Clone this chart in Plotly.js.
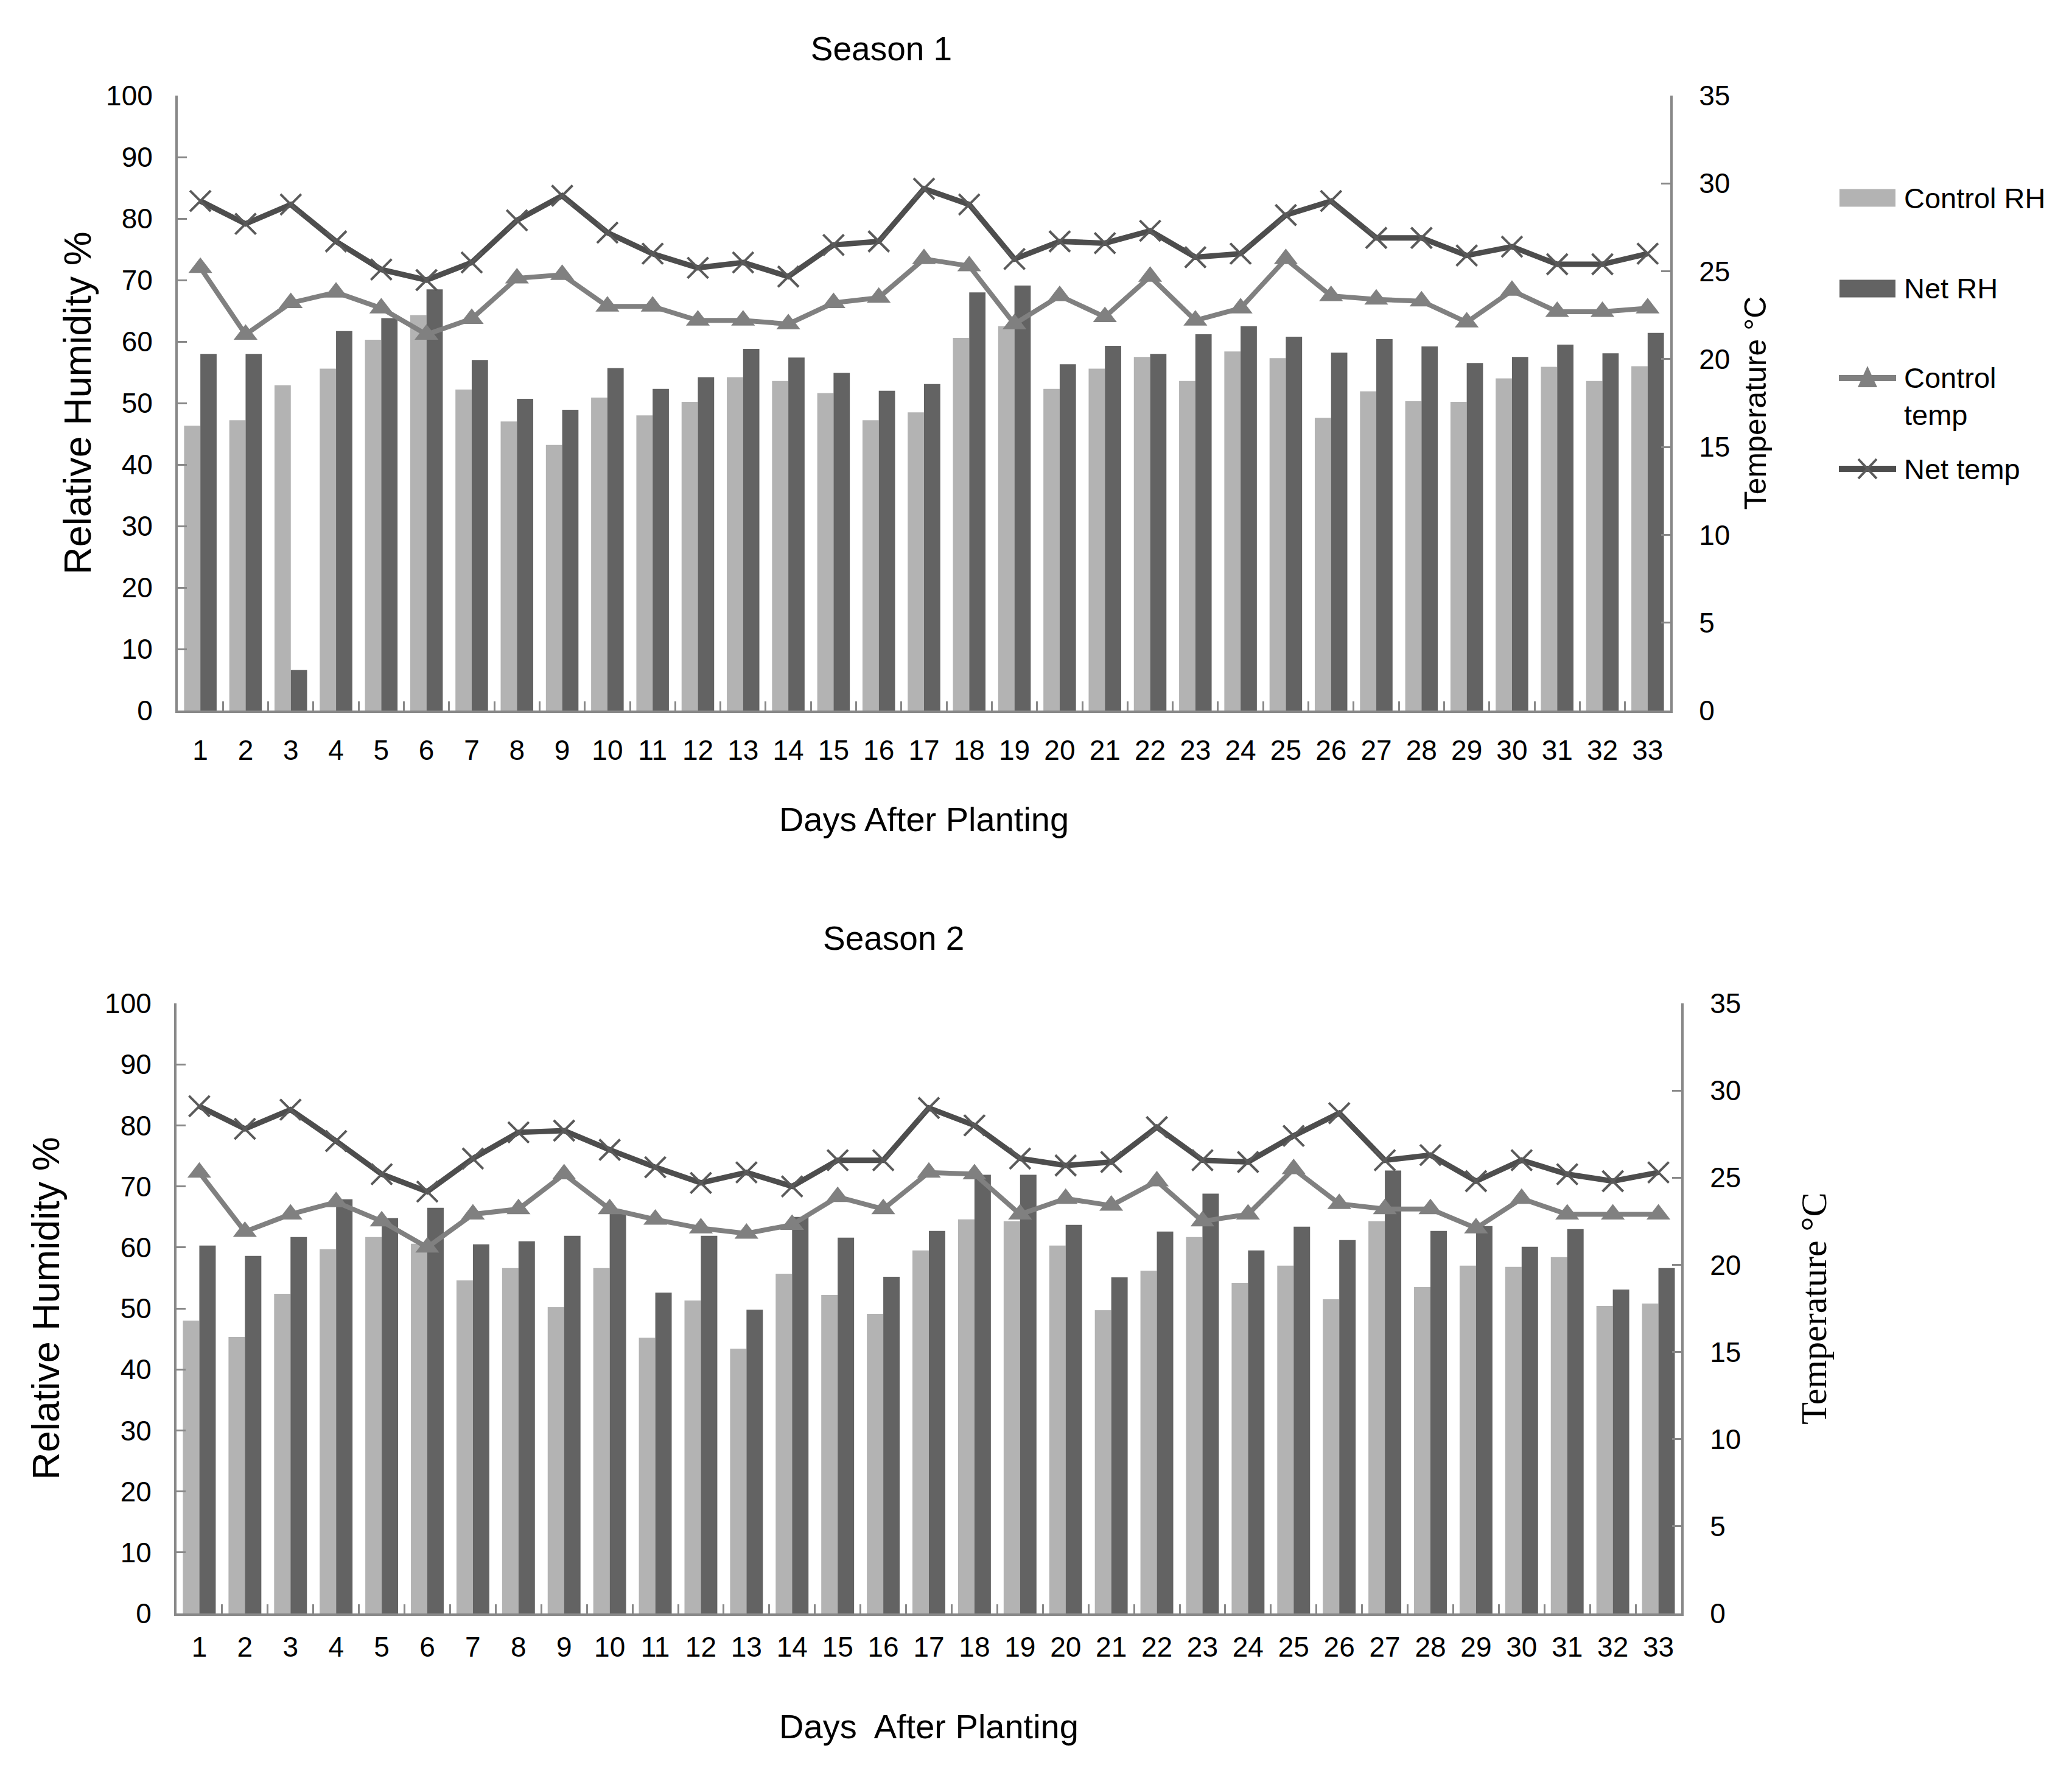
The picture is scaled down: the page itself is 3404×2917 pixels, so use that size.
<!DOCTYPE html>
<html>
<head>
<meta charset="utf-8">
<script src="https://cdn.plot.ly/plotly-3.0.1.min.js"></script>
<style>html,body{margin:0;padding:0;background:#fff;}#chart{width:3404px;height:2917px;}</style>
</head>
<body>
<div id="chart"></div>
<script>
// ---------- DATA ----------
const days = ['1','2','3','4','5','6','7','8','9','10','11','12','13','14','15','16','17','18','19','20','21','22','23','24','25','26','27','28','29','30','31','32','33'];

const s1ControlRH = [46.3,47.2,52.9,55.6,60.3,64.3,52.2,47.0,43.2,50.9,48.0,50.2,54.2,53.6,51.6,47.2,48.5,60.6,62.5,52.3,55.6,57.5,53.6,58.4,57.3,47.6,51.9,50.3,50.2,54.0,55.9,53.6,56.0];
const s1NetRH = [58.0,58.0,6.6,61.7,63.8,68.5,57.0,50.7,48.9,55.7,52.3,54.2,58.8,57.4,54.9,52.0,53.1,68.0,69.1,56.3,59.3,58.0,61.2,62.5,60.8,58.2,60.4,59.2,56.5,57.5,59.5,58.1,61.4];
const s1ControlTemp = [25.2,21.4,23.2,23.8,22.9,21.4,22.3,24.6,24.8,23.0,23.0,22.2,22.2,22.0,23.2,23.5,25.7,25.3,22.0,23.6,22.4,24.7,22.2,22.9,25.7,23.6,23.4,23.3,22.1,23.9,22.7,22.7,22.9];
const s1NetTemp = [29.0,27.7,28.8,26.7,25.1,24.5,25.5,27.9,29.3,27.2,26.0,25.2,25.5,24.7,26.5,26.7,29.7,28.8,25.7,26.7,26.6,27.3,25.8,26.0,28.2,29.0,26.9,26.9,25.9,26.4,25.4,25.4,26.0];

const s2ControlRH = [48.0,45.3,52.4,59.7,61.7,60.6,54.6,56.6,50.2,56.6,45.2,51.3,43.4,55.7,52.2,49.1,59.5,64.6,64.3,60.3,49.7,56.2,61.7,54.2,57.0,51.5,64.3,53.5,57.0,56.8,58.4,50.4,50.8];
const s2NetRH = [60.3,58.6,61.7,67.9,64.8,66.5,60.5,61.0,61.9,65.6,52.6,61.9,49.8,65.0,61.6,55.2,62.7,71.9,71.9,63.7,55.1,62.6,68.8,59.5,63.4,61.2,72.6,62.7,63.5,60.1,63.0,53.1,56.6];
const s2ControlTemp = [25.3,21.9,22.9,23.6,22.5,21.0,22.9,23.2,25.2,23.2,22.6,22.1,21.8,22.3,23.9,23.2,25.3,25.2,22.9,23.8,23.4,24.8,22.5,22.9,25.5,23.5,23.2,23.2,22.1,23.8,22.9,22.9,22.9];
const s2NetTemp = [29.1,27.8,28.9,27.1,25.2,24.2,26.1,27.6,27.7,26.6,25.6,24.7,25.3,24.5,26.0,26.0,29.0,28.0,26.1,25.7,25.9,27.9,26.0,25.9,27.4,28.7,26.0,26.3,24.8,26.0,25.2,24.8,25.3];

const seriesNames = ['Control RH','Net RH','Control temp','Net temp'];
const rhTicks = [0,10,20,30,40,50,60,70,80,90,100];
const tempTicks = [0,5,10,15,20,25,30,35];

// ---------- STYLE ----------
const W = 3404, H = 2917;
const SANS = "'Liberation Sans', Arial, sans-serif";
const SERIF = "'Liberation Serif', 'Times New Roman', serif";
const C_LIGHT = '#b3b3b3', C_DARK = '#636363', C_CT = '#808080', C_NT = '#4d4d4d', C_NTM = '#5a5a5a';
const AXC = '#888888';
const TICKF = {family:SANS, size:46, color:'#000'};

function px(x){ return x / W; }
function py(y){ return 1 - y / H; }

function traces(cRH, nRH, cT, nT, xa, ya, ya2){
  return [
    {type:'bar', name:seriesNames[0], x:days, y:cRH, xaxis:xa, yaxis:ya, marker:{color:C_LIGHT}, showlegend:false},
    {type:'bar', name:seriesNames[1], x:days, y:nRH, xaxis:xa, yaxis:ya, marker:{color:C_DARK}, showlegend:false},
    {type:'scatter', mode:'lines+markers', name:seriesNames[2], x:days, y:cT, xaxis:xa, yaxis:ya2,
     line:{color:C_CT, width:8}, marker:{symbol:'triangle-up', size:34, color:C_CT}, showlegend:false},
    {type:'scatter', mode:'lines+markers', name:seriesNames[3], x:days, y:nT, xaxis:xa, yaxis:ya2,
     line:{color:C_NT, width:9}, marker:{symbol:'x-thin', size:34, line:{color:C_NTM, width:4}}, showlegend:false}
  ];
}

const data = [].concat(
  traces(s1ControlRH, s1NetRH, s1ControlTemp, s1NetTemp, 'x', 'y', 'y2'),
  traces(s2ControlRH, s2NetRH, s2ControlTemp, s2NetTemp, 'x2', 'y3', 'y4')
);

function xAxis(domain, anchor, title, standoff, lblStand){
  return {domain:domain, anchor:anchor, type:'category', range:[-0.5, days.length - 0.5],
    tickson:'boundaries', tickangle:0,
    ticks:'inside', ticklen:15, tickwidth:3, tickcolor:AXC,
    showline:true, linecolor:AXC, linewidth:4, showgrid:false, zeroline:false,
    tickfont:TICKF, ticklabelstandoff:lblStand,
    title:{text:title, font:{family:SANS, size:56, color:'#000'}, standoff:standoff}};
}
function yAxisL(domain, anchor, title, standoff){
  return {domain:domain, anchor:anchor, range:[0,100], tickvals:rhTicks,
    ticks:'inside', ticklen:15, tickwidth:3, tickcolor:AXC,
    showline:true, linecolor:AXC, linewidth:4, showgrid:false, zeroline:false,
    tickfont:TICKF, ticklabelstandoff:28,
    title:{text:title, font:{family:SANS, size:63, color:'#000'}, standoff:standoff}};
}
function yAxisR(overlay, anchor, title, font, standoff){
  return {overlaying:overlay, anchor:anchor, side:'right', range:[0,35], tickvals:tempTicks,
    ticks:'inside', ticklen:15, tickwidth:3, tickcolor:AXC,
    showline:true, linecolor:AXC, linewidth:4, showgrid:false, zeroline:false,
    tickfont:TICKF, ticklabelstandoff:34,
    title:{text:title, font:font, standoff:standoff}};
}

// legend (drawn as layout decoration, season 1 only)
const legX = 3068, legTextX = 3126;
const legY = [325, 474, 621, 770];
const shapes = [
  {type:'rect', xref:'paper', yref:'paper', xsizemode:'pixel', ysizemode:'pixel', xanchor:px(legX), yanchor:py(legY[0]), x0:-46, x1:46, y0:-14.5, y1:14.5, fillcolor:C_LIGHT, line:{width:0}},
  {type:'rect', xref:'paper', yref:'paper', xsizemode:'pixel', ysizemode:'pixel', xanchor:px(legX), yanchor:py(legY[1]), x0:-46, x1:46, y0:-14.5, y1:14.5, fillcolor:C_DARK, line:{width:0}},
  {type:'line', xref:'paper', yref:'paper', xsizemode:'pixel', ysizemode:'pixel', xanchor:px(legX), yanchor:py(legY[2]), x0:-47, x1:47, y0:0, y1:0, line:{color:C_CT, width:10}},
  {type:'path', xref:'paper', yref:'paper', xsizemode:'pixel', ysizemode:'pixel', xanchor:px(legX), yanchor:py(legY[2]), path:'M-16,-15 L16,-15 L0,20 Z', fillcolor:C_CT, line:{width:0}},
  {type:'line', xref:'paper', yref:'paper', xsizemode:'pixel', ysizemode:'pixel', xanchor:px(legX), yanchor:py(legY[3]), x0:-47, x1:47, y0:0, y1:0, line:{color:C_NT, width:10}},
  {type:'path', xref:'paper', yref:'paper', xsizemode:'pixel', ysizemode:'pixel', xanchor:px(legX), yanchor:py(legY[3]), path:'M-15,-16 L15,16 M-15,16 L15,-16', line:{color:C_NTM, width:4}}
];
const legFont = {family:SANS, size:47, color:'#000'};
const annotations = [
  {xref:'paper', yref:'paper', x:px(legTextX), y:py(legY[0]), xanchor:'left', yanchor:'middle', text:seriesNames[0], showarrow:false, font:legFont},
  {xref:'paper', yref:'paper', x:px(legTextX), y:py(legY[1]), xanchor:'left', yanchor:'middle', text:seriesNames[1], showarrow:false, font:legFont},
  {xref:'paper', yref:'paper', x:px(legTextX), y:py(592), xanchor:'left', yanchor:'top', align:'left', text:'Control<br>temp', showarrow:false, font:legFont},
  {xref:'paper', yref:'paper', x:px(legTextX), y:py(legY[3]), xanchor:'left', yanchor:'middle', text:seriesNames[3], showarrow:false, font:legFont},
  {xref:'paper', yref:'paper', x:px(1468), y:py(1541), xanchor:'center', yanchor:'middle', text:'Season 2', showarrow:false, font:{family:SANS, size:55, color:'#000'}}
];

const layout = {
  width:W, height:H, autosize:false,
  margin:{l:0, r:0, t:0, b:0, pad:0},
  paper_bgcolor:'#fff', plot_bgcolor:'rgba(0,0,0,0)',
  showlegend:false,
  barmode:'group', bargap:0.28, bargroupgap:0,
  title:{text:'Season 1', font:{family:SANS, size:55, color:'#000'}, x:px(1448), xanchor:'center', xref:'paper', y:py(80), yanchor:'middle', yref:'paper'},
  xaxis: xAxis([px(292), px(2744)], 'y', 'Days After Planting', 70, 22),
  yaxis: yAxisL([py(1167), py(157)], 'x', 'Relative Humidity %', 5),
  yaxis2: yAxisR('y', 'x', 'Temperature °C', {family:SANS, size:50, color:'#000'}, 26),
  xaxis2: xAxis([px(290), px(2762)], 'y3', 'Days\u00a0 After Planting', 87, 12),
  yaxis3: yAxisL([py(2650), py(1648)], 'x2', 'Relative Humidity %', 55),
  yaxis4: yAxisR('y3', 'x2', 'Temperature °C', {family:SERIF, size:60, color:'#000'}, 100),
  shapes:shapes,
  annotations:annotations
};

Plotly.newPlot('chart', data, layout, {staticPlot:true, displayModeBar:false});
</script>
</body>
</html>
